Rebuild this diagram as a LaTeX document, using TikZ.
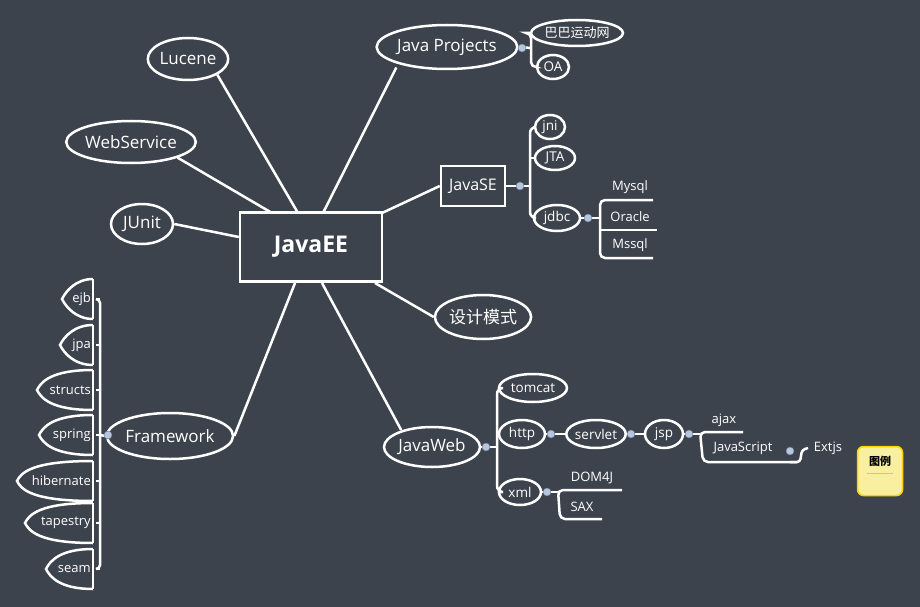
\documentclass[tikz,border=0pt]{standalone}
\usepackage{fontspec}
\setmainfont{Open Sans}
\newfontfamily\cjk{Noto Sans CJK SC}
\usetikzlibrary{shapes.geometric}
\definecolor{bg}{HTML}{3D434D}
\definecolor{dotc}{HTML}{B4C6E0}
\definecolor{noteY}{HTML}{F8F0A0}
\begin{document}
\begin{tikzpicture}[x=1pt,y=-1pt,
  every node/.style={text=white},
  ell/.style={ellipse,draw=white,line width=2.5pt,inner sep=0pt,font=\fontsize{#1}{#1}\selectfont},
  ell/.default=13.5,
  ln/.style={draw=white,line width=2.5pt},
  thin/.style={draw=white,line width=2.5pt},
  lbl/.style={font=\fontsize{13}{13}\selectfont,inner sep=0pt},
  dotn/.style={circle,fill=dotc,draw=dotc!60!black,line width=0.4pt,minimum size=8pt,inner sep=0pt}]
\fill[bg] (0,0) rectangle (920,607);
\useasboundingbox (0,0) rectangle (920,607);
% central
\node[draw=white,line width=2.5pt,minimum width=142pt,minimum height=69pt,font=\fontsize{23}{23}\selectfont\bfseries] (ee) at (311,247) {JavaEE};
% first level
\node[ell=17,minimum width=76pt,minimum height=42pt] (luc) at (188,59) {Lucene};
\node[ell=17,minimum width=118pt,minimum height=42pt] (ws) at (131,142) {WebService};
\node[ell=17,minimum width=62pt,minimum height=40pt] (ju) at (142,224) {JUnit};
\node[ell=17,minimum width=112pt,minimum height=46pt] (fw) at (170,436) {Framework};
\node[ell=17,minimum width=124pt,minimum height=44pt] (jp) at (447,47) {Java Projects};
\node[draw=white,line width=2.5pt,minimum width=64pt,minimum height=40pt,font=\fontsize{16}{16}\selectfont] (se) at (473,186) {JavaSE};
\node[ell=17,minimum width=88pt,minimum height=44pt] (sj) at (483,317) {\cjk 设计模式};
\node[ell=17,minimum width=96pt,minimum height=40pt] (jw) at (432,447) {JavaWeb};
\coordinate (eLuc) at (298,213); \coordinate (eWs) at (272,213);
\coordinate (eJp) at (323,213); \coordinate (eSe) at (382,213);
\coordinate (eSj) at (375,283); \coordinate (eJw) at (322,283);
\coordinate (eFw) at (295,283);
\draw[ln] (luc.south east) -- (eLuc);
\draw[ln] (ws.south east) -- (eWs);
\draw[ln] (ju.east) -- (ee.west |- 0,237);
\draw[ln] (fw.east) -- (eFw);
\draw[ln] (jp.south west) ++(0,4) -- (eJp);
\draw[ln] (se.west) -- (eSe);
\draw[ln] (sj.west) -- (eSj);
\draw[ln] (jw.north west) ++(4,-2) -- (eJw);
% Java Projects children
\node[ell=13,minimum width=84pt,minimum height=26pt] (bb) at (577,33) {\cjk 巴巴运动网};
\node[ell,minimum width=32pt,minimum height=24pt] (oa) at (553,67) {OA};
\draw[thin] (jp.east) -- (531,48);
\draw[thin,rounded corners=5pt] (bb.west) -- (531,33) -- (531,67) -- (oa.west);
\node[dotn] (d1) at (522,48) {};
% JavaSE children
\node[ell,minimum width=30pt,minimum height=24pt] (jni) at (550,127) {jni};
\node[ell,minimum width=40pt,minimum height=24pt] (jta) at (555,158) {JTA};
\node[ell,minimum width=46pt,minimum height=26pt] (jdbc) at (557,218) {jdbc};
\draw[thin] (se.east) -- (530,186);
\draw[thin,rounded corners=6pt] (jni.west) -- (530,127) -- (530,218) -- (jdbc.west);
\draw[thin,rounded corners=5pt] (jta.west) -- (530,158);
\node[dotn] (d2) at (520,186) {};
\draw[thin] (jdbc.east) -- (600,218);
\draw[thin,rounded corners=5pt] (653,200) -- (600,200) -- (600,258) -- (653,258);
\draw[thin] (600,230) -- (657,230);
\node[dotn] (d3) at (588,218) {};
\node[lbl] (my) at (630,187) {Mysql};
\node[lbl] (or) at (630,217) {Oracle};
\node[lbl] (ms) at (630,245) {Mssql};
% JavaWeb children
\node[ell,minimum width=68pt,minimum height=28pt] (tc) at (533,388) {tomcat};
\node[ell,minimum width=46pt,minimum height=28pt] (http) at (522,434) {http};
\node[ell,minimum width=42pt,minimum height=26pt] (xml) at (520,492) {xml};
\draw[thin] (jw.east) -- (497,447);
\draw[thin,rounded corners=6pt] (tc.west) -- (497,388) -- (497,492) -- (xml.west);
\draw[thin] (http.west) -- (497,434);
\node[dotn] (d4) at (486,447) {};
\node[ell,minimum width=58pt,minimum height=28pt] (sv) at (596,434) {servlet};
\node[ell,minimum width=38pt,minimum height=28pt] (jsp) at (664,434) {jsp};
\draw[thin] (http) -- (sv);
\draw[thin] (sv) -- (jsp);
\node[dotn] (d5) at (551,434) {};
\node[dotn] (d6) at (631,434) {};
\draw[thin] (jsp.east) -- (700,434);
\draw[thin,rounded corners=5pt] (743,432) -- (700,432) -- (703,462) -- (797,462);
\node[dotn] (d7) at (689,434) {};
\node[lbl] (ajax) at (724,420) {ajax};
\node[lbl] (js) at (743,448) {JavaScript};
\draw[thin,rounded corners=3pt] (790,462) -- (800,462) -- (802,450) -- (808,448);
\node[dotn] (d8) at (790,451) {};
\node[lbl] (ext) at (828,448) {Extjs};
\draw[thin] (xml.east) -- (558,492);
\draw[thin,rounded corners=5pt] (622,490) -- (558,490) -- (560,519) -- (602,519);
\node[dotn] (d9) at (547,492) {};
\node[lbl] (dom) at (592,478) {DOM4J};
\node[lbl] (sax) at (582,507) {SAX};
% legend
\node[fill=noteY,draw=yellow!70!orange,line width=1.5pt,rounded corners=6pt,minimum width=45pt,minimum height=49pt] (lg) at (880,471) {};
\node[text=black,font=\cjk\bfseries\fontsize{11}{11}\selectfont] (lgt) at (880,461) {图例};
\draw[yellow!60!orange,line width=0.8pt] (867,473) -- (893,473);
% Framework leaves
\foreach \nm/\y/\l in {ejb/299/62,jpa/345/60,structs/390/37,spring/435/39,hibernate/481/17,tapestry/523/25,seam/569/46}{
  \draw[white,line width=2.5pt] (93,\y-20) -- (93,\y+20);
  \draw[white,line width=2.5pt] (93,\y-20) .. controls (\l+14,\y-20) and (\l+4,\y-8) .. (\l,\y) .. controls (\l+4,\y+8) and (\l+14,\y+20) .. (93,\y+20);
  \node[lbl,anchor=east] (\nm) at (91,\y) {\nm};
  \draw[white,line width=1.5pt] (96,\y) -- (100,\y);
}
\draw[thin,rounded corners=4pt] (96,299) -- (100,299) -- (100,569) -- (96,569);
\draw[thin] (fw.west) -- (100,435);
\node[dotn] (d10) at (108,435) {};
\end{tikzpicture}
\end{document}
